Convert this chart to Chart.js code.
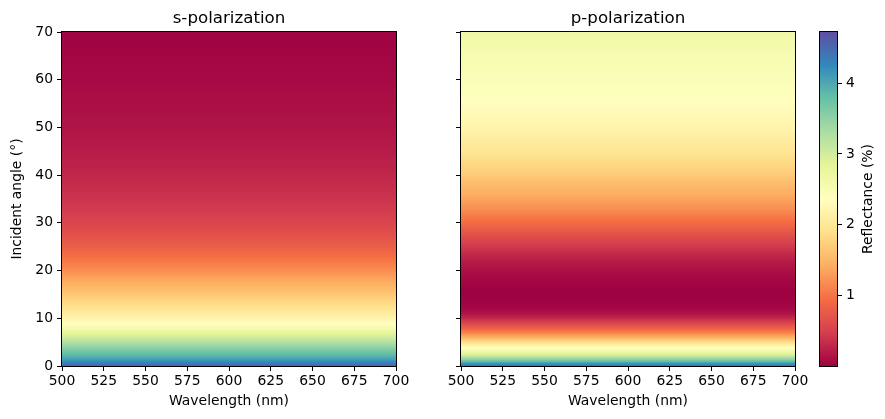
<!DOCTYPE html>
<html>
<head>
<meta charset="utf-8">
<script src="https://cdn.jsdelivr.net/npm/chart.js@4/dist/chart.umd.min.js"></script>
<style>
body{margin:0;background:#fff;width:885px;height:419px;position:relative;overflow:hidden}
canvas{position:absolute;top:0}
</style>
</head>
<body>
<canvas id="sPol" width="420" height="419" style="left:0"></canvas>
<canvas id="pPol" width="400" height="419" style="left:420px"></canvas>
<canvas id="cbar" width="85" height="419" style="left:800px"></canvas>
<script>
// incident angle grid (deg) and reflectance (%)
const angles = [0,0.5,1,1.5,2,2.5,3,3.5,4,5,6,7,8,9,10,11,12,13,14,16,18,20,22,24,26,28,30,33,36,40,45,50,55,60,65,70];
const sPolarization = [4.55,4.38,4.2,4.05,3.92,3.82,3.72,3.6,3.48,3.25,3.02,2.8,2.55,2.35,2.2,2.08,1.97,1.86,1.76,1.56,1.38,1.2,1.03,0.88,0.75,0.64,0.55,0.45,0.38,0.3,0.22,0.16,0.12,0.08,0.05,0.03];
const pPolarization = [4.45,4.15,3.8,3.45,3.15,2.9,2.68,2.5,2.3,1.88,1.45,1.1,0.8,0.55,0.32,0.15,0.07,0.04,0.02,0.02,0.06,0.12,0.22,0.36,0.52,0.72,0.93,1.2,1.42,1.68,1.98,2.2,2.35,2.45,2.55,2.65];
const wavelengthRange = [500, 700];
const colorbarTicks = [1, 2, 3, 4];
const cbarMin = 0.01, cbarMax = 4.72;

const spectralStops = ['#9e0142','#d53e4f','#f46d43','#fdae61','#fee08b','#ffffbf','#e6f598','#abdda4','#66c2a5','#3288bd','#5e4fa2']
  .map(h => [parseInt(h.slice(1,3),16), parseInt(h.slice(3,5),16), parseInt(h.slice(5,7),16)]);

function spectral(v){
  let t = (v - cbarMin) / (cbarMax - cbarMin);
  t = Math.min(1, Math.max(0, t)) * 10;
  const i = Math.min(9, Math.floor(t)), f = t - i;
  const a = spectralStops[i], b = spectralStops[i+1];
  const c = a.map((x, k) => Math.round(x + (b[k]-x)*f));
  return `rgb(${c[0]},${c[1]},${c[2]})`;
}

Chart.defaults.font.family = 'DejaVu Sans';
Chart.defaults.font.size = 13.9;
Chart.defaults.color = '#000';

const framePlugin = {
  id: 'frame',
  afterDatasetsDraw(chart){
    const {ctx, chartArea: a} = chart;
    ctx.save();
    ctx.strokeStyle = '#000';
    ctx.lineWidth = 1;
    ctx.strokeRect(a.left - 0.5, a.top - 0.5, a.width + 1, a.height + 1);
    ctx.restore();
  }
};

function heatmap(id, title, values, yLabels, yWidth, padRight){
  const rows = [];
  for (let i = 0; i < angles.length - 1; i++) rows.push({x: 600, y: [angles[i], angles[i+1]]});
  return new Chart(document.getElementById(id), {
    type: 'bar',
    data: {
      datasets: [{
        data: rows,
        barThickness: 400,
        clip: 0,
        borderWidth: 0,
        inflateAmount: 0.6,
        backgroundColor: (c) => {
          const chart = c.chart, y = chart.scales.y;
          const i = c.dataIndex;
          if (!chart.chartArea || !y || i === undefined) return spectral(values[0]);
          const y0 = y.getPixelForValue(angles[i]), y1 = y.getPixelForValue(angles[i+1]);
          const g = chart.ctx.createLinearGradient(0, y0, 0, y1);
          for (let k = 0; k <= 6; k++) {
            g.addColorStop(k/6, spectral(values[i] + (values[i+1]-values[i])*k/6));
          }
          return g;
        }
      }]
    },
    options: {
      responsive: false,
      animation: false,
      layout: {padding: {left: 0, right: padRight, top: 0, bottom: 0}},
      plugins: {
        legend: {display: false},
        tooltip: {enabled: false},
        title: {display: true, text: title, fullSize: false, font: {size: 16.67, weight: 'normal'}, padding: {top: 9, bottom: 3}}
      },
      scales: {
        x: {
          type: 'linear', min: wavelengthRange[0], max: wavelengthRange[1], offset: false,
          ticks: {stepSize: 25, maxRotation: 0, autoSkip: false, padding: 2},
          grid: {drawOnChartArea: false, color: '#000', tickLength: 5, offset: false},
          border: {display: false},
          title: {display: true, text: 'Wavelength (nm)', padding: {top: 0, bottom: 9}},
          afterFit: (s) => { s.height = 53; s.paddingLeft = 0; s.paddingRight = 0; }
        },
        y: {
          type: 'linear', min: 0, max: 70,
          ticks: {stepSize: 10, padding: 4, callback: (v) => yLabels ? v : ''},
          grid: {drawOnChartArea: false, color: '#000', tickLength: 5},
          border: {display: false},
          title: {display: yLabels, text: 'Incident angle (°)', padding: {top: 9, bottom: 0}},
          afterFit: (s) => { s.width = yWidth; s.paddingTop = 0; s.paddingBottom = 0; }
        }
      }
    },
    plugins: [framePlugin]
  });
}

heatmap('sPol', 's-polarization', sPolarization, true, 62, 24);
heatmap('pPol', 'p-polarization', pPolarization, false, 41, 25);

const cbarLabel = {
  id: 'cbarLabel',
  afterDraw(chart){
    const {ctx, chartArea: a} = chart;
    ctx.save();
    ctx.translate(68, (a.top + a.bottom) / 2);
    ctx.rotate(-Math.PI / 2);
    ctx.font = '13.9px "DejaVu Sans"';
    ctx.fillStyle = '#000';
    ctx.textAlign = 'center';
    ctx.textBaseline = 'middle';
    ctx.fillText('Reflectance (%)', 0, 0);
    ctx.restore();
  }
};

new Chart(document.getElementById('cbar'), {
  type: 'bar',
  data: {
    datasets: [{
      data: [{x: 0, y: [cbarMin, cbarMax]}],
      barThickness: 60,
      clip: 0,
      borderWidth: 0,
      backgroundColor: (c) => {
        const chart = c.chart, y = chart.scales.y;
        if (!chart.chartArea || !y) return spectral(cbarMin);
        const g = chart.ctx.createLinearGradient(0, y.getPixelForValue(cbarMin), 0, y.getPixelForValue(cbarMax));
        spectralStops.forEach((s, k) => g.addColorStop(k/10, `rgb(${s[0]},${s[1]},${s[2]})`));
        return g;
      }
    }]
  },
  options: {
    responsive: false,
    animation: false,
    layout: {padding: {left: 20, right: 0, top: 32, bottom: 53}},
    plugins: {legend: {display: false}, tooltip: {enabled: false}},
    scales: {
      x: {type: 'linear', min: -1, max: 1, display: false, offset: false},
      y: {
        type: 'linear', position: 'right', min: cbarMin, max: cbarMax,
        afterBuildTicks: (s) => { s.ticks = colorbarTicks.map(v => ({value: v})); },
        ticks: {padding: 4},
        grid: {drawOnChartArea: false, color: '#000', tickLength: 5},
        border: {display: false},
        afterFit: (s) => { s.width = 48; s.paddingTop = 0; s.paddingBottom = 0; }
      }
    }
  },
  plugins: [framePlugin, cbarLabel]
});
</script>
</body>
</html>
